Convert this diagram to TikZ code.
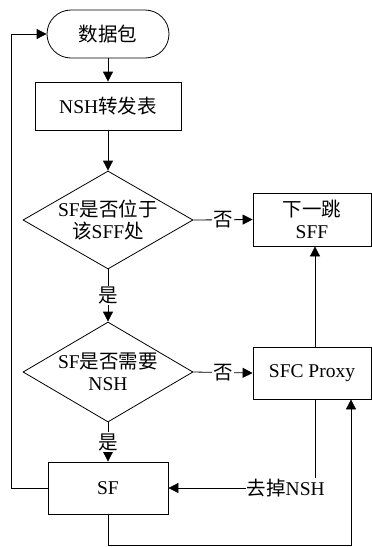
\documentclass[tikz,border=0pt]{standalone}
\usepackage{fontspec}
\setmainfont{Liberation Serif}
\newfontfamily\cjk{Noto Sans CJK SC}
\usepackage{tikz}
\usetikzlibrary{arrows.meta}
\usetikzlibrary{shapes.geometric}
\newcommand{\zh}[1]{{\cjk #1}}
\tikzset{arr/.style = {arrows = {-Triangle[length = 10pt, width = 10pt, fill = black]}}}
\tikzset{stepbox/.style = {draw, rectangle, minimum width = 120, minimum height = 52, align = center}}
\tikzset{termbox/.style = {draw, rectangle, rounded corners = 24, minimum width = 122, minimum height = 48}}
\tikzset{decbox/.style = {draw, diamond, inner sep = 0, minimum width = 170, minimum height = 98, aspect = 1.73}}
\tikzset{lbl/.style = {fill = white, inner sep = 1}}

\begin{document}
\begin{tikzpicture}[line width = 0.8pt, font = \fontsize{19.5}{22}\selectfont]
      \useasboundingbox (0pt, 0pt) rectangle (372pt, -547pt);

      \node [termbox] (start) at (108pt, -34pt) {\zh{数据包}};
      \node [stepbox, minimum width = 146, minimum height = 48] (table) at (108pt, -106pt) {NSH\zh{转发表}};
      \node [decbox] (atsff) at (108pt, -220pt) {};
      \node [align = center] (atsfft) at (108pt, -220pt) {SF\zh{是否位于}\\\zh{该}SFF\zh{处}};
      \node [decbox, minimum height = 100] (neednsh) at (108pt, -372pt) {};
      \node [align = center] (neednsht) at (108pt, -372pt) {SF\zh{是否需要}\\NSH};
      \node [stepbox, minimum width = 118, minimum height = 53] (nexthop) at (312pt, -219.5pt) {\zh{下一跳}\\SFF};
      \node [stepbox, minimum width = 118] (proxy) at (312pt, -373pt) {SFC Proxy};
      \node [stepbox] (sf) at (108pt, -488pt) {SF};

      \draw [arr] (start) -- (table);
      \draw [arr] (table) -- (atsff);
      \draw [arr] (atsff.east) -- (nexthop.west) node [lbl, pos = 0.5] {\zh{否}};
      \draw [arr] (atsff.south) -- (neednsh.north) node [lbl, pos = 0.5] {\zh{是}};
      \draw [arr] (neednsh.east) -- (proxy.west) node [lbl, pos = 0.5] {\zh{否}};
      \draw [arr] (neednsh.south) -- (sf.north) node [lbl, pos = 0.5] {\zh{是}};
      \draw [arr] ([xshift = 3]proxy.north) -- ([xshift = 3]nexthop.south);
      \draw [arr] ([xshift = 3]proxy.south) |- (sf.east) node [lbl, pos = 0.6] {\zh{去掉}NSH};
      \draw [arr] (sf.south) -- ++(0pt, -31pt) -| ([xshift = 39]proxy.south);
      \draw [arr] (sf.west) -- ++(-36pt, 0pt) |- (start.west);
    \end{tikzpicture}
\end{document}
